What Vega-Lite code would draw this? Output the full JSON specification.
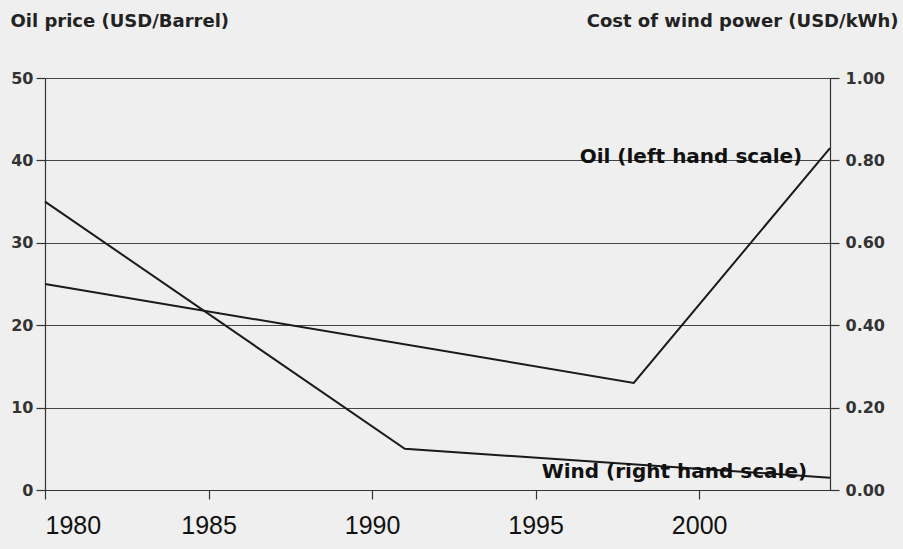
{
  "$schema": "https://vega.github.io/schema/vega-lite/v6.json",
  "width": 785,
  "height": 412,
  "autosize": "none",
  "padding": {"left": 45, "top": 78, "right": 73, "bottom": 59},
  "background": "#efefef",
  "config": {
    "view": {"stroke": null},
    "axis": {"domainColor": "#333", "tickColor": "#333", "gridColor": "#444", "domainWidth": 1.2, "tickWidth": 1.2}
  },
  "datasets": {
    "oil": [
      {"year": 1980, "value": 25},
      {"year": 1998, "value": 13},
      {"year": 2004, "value": 41.5}
    ],
    "wind": [
      {"year": 1980, "value": 0.70},
      {"year": 1991, "value": 0.10},
      {"year": 2004, "value": 0.03}
    ],
    "oilLabel": [
      {"year": 2003.15, "value": 39.7, "label": "Oil (left hand scale)"}
    ],
    "windLabel": [
      {"year": 2003.3, "value": 0.029, "label": "Wind (right hand scale)"}
    ]
  },
  "layer": [
    {
      "layer": [
        {
          "data": {"name": "oil"},
          "mark": {"type": "line", "color": "#1a1a1a", "strokeWidth": 2},
          "encoding": {
            "x": {"field": "year", "type": "quantitative", "scale": {"domain": [1980, 2004], "nice": false, "zero": false},
              "axis": {"values": [1980, 1985, 1990, 1995, 2000], "format": "d", "title": null, "grid": false, "tickSize": 9,
                "labelFont": "Liberation Sans", "labelFontSize": 25, "labelColor": "#111", "labelPadding": 14}},
            "y": {"field": "value", "type": "quantitative", "scale": {"domain": [0, 50], "nice": false},
              "axis": {"orient": "left", "values": [0, 10, 20, 30, 40, 50], "grid": true, "tickSize": 9,
                "labelFont": "DejaVu Sans", "labelFontWeight": "bold", "labelFontSize": 16, "labelColor": "#333", "labelPadding": 3,
                "title": "Oil price (USD/Barrel)", "titleAngle": 0, "titleAlign": "left", "titleBaseline": "alphabetic",
                "titleX": -35, "titleY": -52, "titleFont": "DejaVu Sans", "titleFontSize": 18, "titleFontWeight": "bold", "titleColor": "#222"}}
          }
        },
        {
          "data": {"name": "oilLabel"},
          "mark": {"type": "text", "align": "right", "baseline": "alphabetic", "font": "DejaVu Sans", "fontWeight": "bold", "fontSize": 20, "color": "#111"},
          "encoding": {
            "x": {"field": "year", "type": "quantitative"},
            "y": {"field": "value", "type": "quantitative"},
            "text": {"field": "label"}
          }
        }
      ]
    },
    {
      "layer": [
        {
          "data": {"name": "wind"},
          "mark": {"type": "line", "color": "#1a1a1a", "strokeWidth": 2},
          "encoding": {
            "x": {"field": "year", "type": "quantitative"},
            "y": {"field": "value", "type": "quantitative", "scale": {"domain": [0, 1], "nice": false},
              "axis": {"orient": "right", "values": [0, 0.2, 0.4, 0.6, 0.8, 1], "format": ".2f", "grid": false, "tickSize": 9,
                "labelFont": "DejaVu Sans", "labelFontWeight": "bold", "labelFontSize": 16, "labelColor": "#333", "labelPadding": 6,
                "title": "Cost of wind power (USD/kWh)", "titleAngle": 0, "titleAlign": "right", "titleBaseline": "alphabetic",
                "titleX": 68, "titleY": -52, "titleFont": "DejaVu Sans", "titleFontSize": 18, "titleFontWeight": "bold", "titleColor": "#222"}}
          }
        },
        {
          "data": {"name": "windLabel"},
          "mark": {"type": "text", "align": "right", "baseline": "alphabetic", "font": "DejaVu Sans", "fontWeight": "bold", "fontSize": 20, "color": "#111"},
          "encoding": {
            "x": {"field": "year", "type": "quantitative"},
            "y": {"field": "value", "type": "quantitative"},
            "text": {"field": "label"}
          }
        }
      ]
    }
  ],
  "resolve": {"scale": {"y": "independent"}}
}
